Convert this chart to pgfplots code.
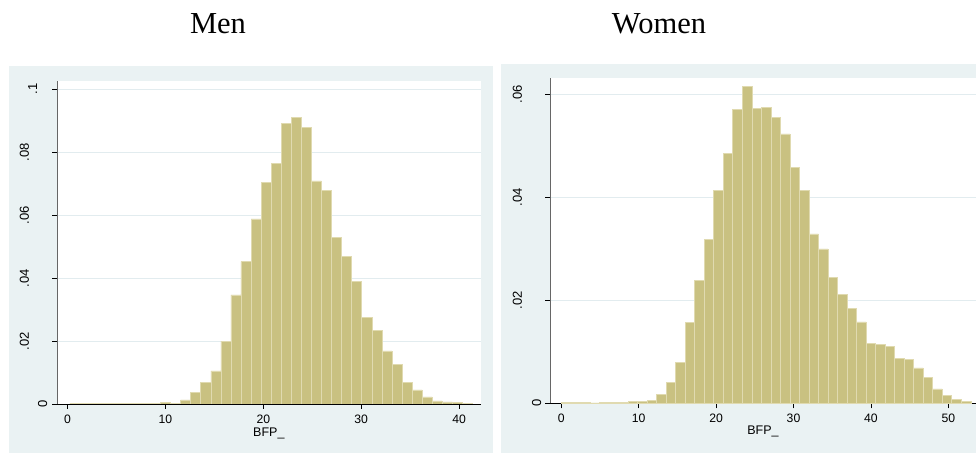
\documentclass[border=0pt]{standalone}
\usepackage{pgfplots}
\pgfplotsset{compat=1.18}
\usepackage{fontspec}
\setmainfont{Liberation Sans}
\newfontfamily\timesfont{Liberation Serif}
\definecolor{bgc}{RGB}{234,242,243}
\definecolor{barc}{RGB}{201,193,129}
\definecolor{barl}{RGB}{224,218,176}
\definecolor{gridc}{RGB}{226,236,239}
\newcommand{\yl}[2][0bp]{\raisebox{#1}[0pt][0pt]{#2}}
\pgfplotsset{
  statastyle/.style={
    scale only axis,
    anchor=south west,
    axis background/.style={fill=white},
    axis x line*=bottom,
    axis y line*=left,
    x axis line style={-, black, line width=0.9bp},
    y axis line style={-, black!60, line width=1bp},
    tick align=outside,
    major tick length=5bp,
    tick style={black, line width=0.8bp},
    xtick pos=bottom, ytick pos=left,
    ymajorgrids,
    grid style={gridc, line width=0.7bp},
    ymin=0,
    scaled y ticks=false,
    /pgf/number format/assume math mode=true,
    tick label style={font=\fontsize{12.2bp}{14bp}\selectfont},
    xticklabel style={yshift=-2bp},
    yticklabel style={xshift=-22.5bp, rotate=90, anchor=south, inner sep=0pt, font=\fontsize{13bp}{15bp}\selectfont},
    label style={font=\fontsize{12.5bp}{14bp}\selectfont},
    xlabel={BFP\_},
  },
  statabar/.style={ybar, bar shift=0pt, fill=barc, draw=barl, line width=0.5bp},
}
\begin{document}
\begin{tikzpicture}[x=1bp,y=1bp]
\path[use as bounding box] (0,0) rectangle (976,455);
\fill[white] (0,0) rectangle (976,455);
\fill[bgc] (9,2) rectangle (493.3,389);
\fill[bgc] (501,2) rectangle (976,391);
\node[font=\timesfont\fontsize{30.5bp}{36bp}\selectfont, anchor=base] at (218,421.7) {Men};
\node[font=\timesfont\fontsize{30.5bp}{36bp}\selectfont, anchor=base] at (659,421.7) {Women};

\begin{axis}[statastyle,
  at={(57bp,51bp)}, width=423.7bp, height=323.3bp,
  xmin=-1.079, xmax=42.21, ymax=0.1027,
  xtick={0,10,20,30,40}, xticklabels={0,10,20,30,40},
  ytick={0,0.02,0.04,0.06,0.08,0.1},
  yticklabels={{\yl[-18.4bp]{0}},{\yl{.02}},{\yl{.04}},{\yl{.06}},{\yl{.08}},{\yl[-8.4bp]{.1}}},
  xlabel style={at={(axis description cs:0.5,-0.0897)}, anchor=center},
]
\addplot[statabar, bar width=1.028] coordinates {
(0.754,0.0002) (1.782,0.0002) (2.810,0.0001) (3.838,0.0002) (4.866,0.0001)
(5.894,0.0002) (6.922,0.0002) (7.950,0.0003) (8.978,0.0003) (10.006,0.0005)
(11.034,0.0003) (12.062,0.0013) (13.090,0.0036) (14.118,0.0068) (15.146,0.0105)
(16.174,0.0200) (17.202,0.0347) (18.230,0.0452) (19.258,0.0588) (20.286,0.0704)
(21.314,0.0764) (22.342,0.0892) (23.370,0.0911) (24.398,0.0878) (25.426,0.0709)
(26.454,0.0678) (27.482,0.0530) (28.510,0.0469) (29.538,0.0390) (30.566,0.0276)
(31.594,0.0233) (32.622,0.0169) (33.650,0.0127) (34.678,0.0069) (35.706,0.0045)
(36.734,0.0023) (37.762,0.0010) (38.790,0.0007) (39.818,0.0004) (40.846,0.0003)
};
\end{axis}

\begin{axis}[statastyle,
  at={(550bp,51.7bp)}, width=426bp, height=325bp,
  xmin=-1.45, xmax=53.57, ymax=0.0631,
  xtick={0,10,20,30,40,50}, xticklabels={0,10,20,30,40,50},
  ytick={0,0.02,0.04,0.06},
  yticklabels={{\yl[-19.3bp]{0}},{\yl{.02}},{\yl{.04}},{\yl{.06}}},
  xlabel style={at={(axis description cs:0.5,-0.0874)}, anchor=center},
]
\addplot[statabar, bar width=1.2296] coordinates {
(0.632,0.0002) (1.862,0.0002) (3.091,0.0002) (4.321,0.0001) (5.550,0.0002)
(6.780,0.0002) (8.010,0.0002) (9.239,0.0004) (10.469,0.0003) (11.698,0.0006)
(12.928,0.0018) (14.158,0.0041) (15.387,0.0080) (16.617,0.0157) (17.846,0.0238)
(19.076,0.0318) (20.306,0.0413) (21.535,0.0485) (22.765,0.0570) (23.994,0.0615)
(25.224,0.0572) (26.454,0.0575) (27.683,0.0555) (28.913,0.0523) (30.142,0.0458)
(31.372,0.0414) (32.602,0.0329) (33.831,0.0300) (35.061,0.0245) (36.290,0.0212)
(37.520,0.0185) (38.750,0.0158) (39.979,0.0117) (41.209,0.0115) (42.438,0.0111)
(43.668,0.0087) (44.898,0.0085) (46.127,0.0069) (47.357,0.0051) (48.586,0.0028)
(49.816,0.0016) (51.046,0.0008) (52.275,0.0003)
};
\end{axis}
\end{tikzpicture}
\end{document}
